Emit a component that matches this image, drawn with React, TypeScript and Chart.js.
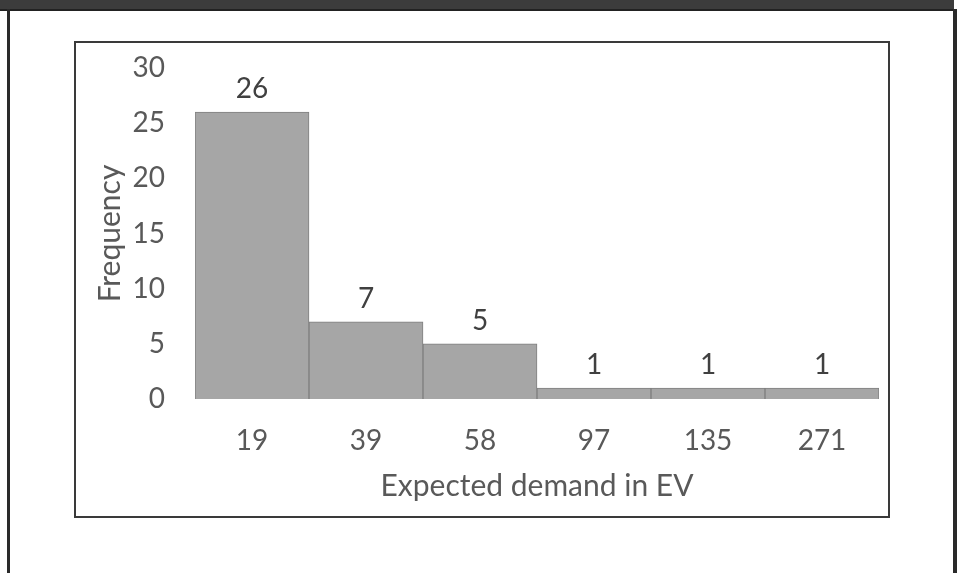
import React, { useEffect, useRef } from "react";
import { Chart, registerables } from "chart.js";

Chart.register(...registerables);

const categories: string[] = ["19", "39", "58", "97", "135", "271"];
const frequencies: number[] = [26, 7, 5, 1, 1, 1];
const yTicks: number[] = [0, 5, 10, 15, 20, 25, 30];
const xTitle = "Expected demand in EV";
const yTitle = "Frequency";

const FONT = "Lato, 'Open Sans', sans-serif";
const TEXT = "#595959";

const dataLabelPlugin = {
  id: "dataLabels",
  afterDatasetsDraw(chart: any) {
    const ctx = chart.ctx;
    const meta = chart.getDatasetMeta(0);
    ctx.save();
    ctx.font = `28px ${FONT}`;
    ctx.fillStyle = "#404040";
    ctx.textAlign = "center";
    ctx.textBaseline = "alphabetic";
    meta.data.forEach((bar: any, i: number) => {
      ctx.fillText(String(frequencies[i]), bar.x, bar.y - 14);
    });
    ctx.restore();
  },
};

export default function App() {
  const ref = useRef<HTMLCanvasElement | null>(null);

  useEffect(() => {
    if (!ref.current) return;
    const chart = new Chart(ref.current, {
      type: "bar",
      data: {
        labels: categories,
        datasets: [
          {
            data: frequencies,
            backgroundColor: "#a6a6a6",
            borderColor: "#7f7f7f",
            borderWidth: 1,
            categoryPercentage: 1,
            barPercentage: 1,
          },
        ],
      },
      options: {
        animation: false,
        responsive: false,
        maintainAspectRatio: false,
        layout: { padding: { left: 0, right: 9, top: 25, bottom: 0 } },
        plugins: { legend: { display: false }, tooltip: { enabled: false } },
        scales: {
          x: {
            grid: { display: false, drawTicks: false },
            border: { display: false },
            ticks: { color: TEXT, font: { family: FONT, size: 28 }, padding: 25 },
            title: {
              display: true,
              text: xTitle,
              color: TEXT,
              font: { family: FONT, size: 30 },
              padding: { top: 0, bottom: 12 },
            },
            afterFit: (s: any) => {
              s.height = 117;
              s.paddingLeft = 0;
              s.paddingRight = 0;
            },
          },
          y: {
            min: 0,
            max: 30,
            grid: { display: false, drawTicks: false },
            border: { display: false },
            afterBuildTicks: (s: any) => {
              s.ticks = yTicks.map((v) => ({ value: v }));
            },
            ticks: { color: TEXT, font: { family: FONT, size: 28 }, padding: 30 },
            title: {
              display: true,
              text: yTitle,
              color: TEXT,
              font: { family: FONT, size: 30 },
              padding: { top: 16, bottom: 0 },
            },
            afterFit: (s: any) => {
              s.width = 119;
              s.paddingTop = 0;
              s.paddingBottom = 0;
            },
          },
        },
      },
      plugins: [dataLabelPlugin],
    });
    return () => chart.destroy();
  }, []);

  return (
    <div style={{ position: "fixed", left: 0, top: 0, width: 959, height: 573, background: "#fff", overflow: "hidden" }}>
      <div style={{ position: "absolute", left: 0, top: 0, width: 954, height: 9, background: "#3c3c3c" }} />
      <div style={{ position: "absolute", left: 0, top: 9, width: 954, height: 2, background: "#222" }} />
      <div style={{ position: "absolute", left: 7, top: 9, width: 3, height: 564, background: "#2a2a2a" }} />
      <div style={{ position: "absolute", left: 953, top: 9, width: 4, height: 564, background: "#2a2a2a" }} />
      <div
        style={{
          position: "absolute",
          left: 74,
          top: 41,
          width: 812,
          height: 473,
          border: "2px solid #3a3a3a",
          background: "#fff",
        }}
      >
        <canvas ref={ref} width={812} height={473} style={{ display: "block", width: 812, height: 473 }} />
      </div>
    </div>
  );
}
